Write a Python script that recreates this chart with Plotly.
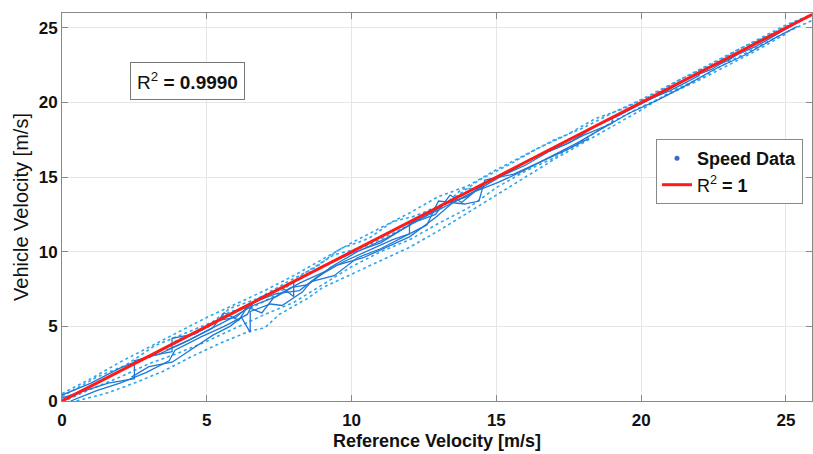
import plotly.graph_objects as go

# Speed test runs: (reference velocity, vehicle velocity) in m/s
RUN_SOLID_1 = [(0, 0.2), (0.8, 0.7), (1.6, 1.2), (2.5, 1.5), (2.5, 2.7), (3.3, 3.1), (4.2, 3.9),
               (5.0, 4.7), (5.8, 5.5), (6.6, 6.4), (7.4, 7.0), (8.2, 7.9), (9.0, 8.6), (9.8, 9.4),
               (10.6, 10.1), (11.4, 10.8), (12.0, 11.2), (12.0, 11.9), (12.8, 12.6), (13.6, 13.4),
               (14.4, 14.2), (15.2, 15.1), (16.0, 15.8), (16.8, 16.7), (17.6, 17.4), (18.4, 18.4),
               (19.2, 19.1), (20.0, 19.9), (20.8, 20.7), (21.6, 21.6), (22.4, 22.2), (23.2, 23.1),
               (24.0, 23.8), (24.8, 24.7), (25.6, 25.6)]
RUN_SOLID_2 = [(0, 0.4), (1.0, 1.2), (2.0, 2.2), (3.0, 3.0), (3.8, 3.3), (3.8, 4.2), (4.6, 4.5),
               (5.4, 5.4), (6.0, 5.6), (6.8, 6.9), (7.6, 7.6), (8.0, 7.0), (8.0, 8.0), (9.0, 9.0),
               (10.0, 9.9), (11.0, 10.6), (12.0, 11.8), (13.0, 12.9), (13.2, 13.2), (14.0, 13.7),
               (14.6, 14.6), (15.4, 15.3), (16.4, 16.4), (17.4, 17.2), (18.0, 17.8), (19.0, 18.6),
               (19.0, 19.0), (20.0, 20.0), (21.0, 20.8), (22.0, 21.8), (22.0, 22.1), (23.0, 22.8),
               (24.0, 24.1), (25.0, 25.0), (25.9, 25.9)]
RUN_SOLID_3 = [(0.3, 0.0), (1.2, 0.7), (2.0, 1.2), (2.9, 1.9), (3.7, 2.7), (3.9, 3.4), (4.8, 4.3),
               (5.6, 5.0), (6.4, 5.8), (6.6, 6.6), (7.4, 7.2), (8.2, 7.4), (8.8, 8.3), (9.5, 9.1),
               (10.4, 9.6), (11.2, 10.3), (12.0, 11.0), (12.9, 12.3), (13.5, 13.3), (14.2, 14.0),
               (15.0, 14.6), (15.8, 15.3), (16.8, 16.3), (17.8, 17.3), (18.6, 18.2), (19.6, 19.3),
               (20.6, 20.2), (21.6, 21.2), (22.6, 22.3), (23.6, 23.2), (24.6, 24.3), (25.4, 25.1)]
RUN_SOLID_4 = [(2.4, 1.6), (3.0, 2.3), (3.8, 2.6), (4.6, 3.6), (5.2, 4.4), (5.8, 5.0), (6.2, 5.6),
               (6.5, 4.6), (6.5, 6.0), (7.2, 6.5), (7.6, 6.4), (8.3, 7.3), (8.6, 8.0), (9.4, 8.4),
               (10.2, 9.6), (11.0, 10.2), (12.6, 11.8), (13.0, 13.4), (13.9, 13.2), (14.4, 13.4),
               (14.6, 14.8), (15.6, 15.2), (16.5, 16.0), (17.5, 16.9), (18.2, 17.6)]
RUN_SOLID_5 = [(3.6, 3.4), (4.4, 4.1), (5.2, 4.9), (5.6, 5.9), (6.1, 5.4), (6.4, 6.3), (6.9, 5.9),
               (7.3, 6.9), (7.9, 7.6), (8.5, 7.8), (9.3, 9.0), (10.2, 10.0), (11.3, 11.0),
               (12.2, 12.0), (12.9, 12.5), (13.4, 13.8), (13.8, 13.3), (14.3, 14.1), (14.8, 14.9)]
RUN_DOT_1 = [(0, 0.5), (1.0, 1.5), (2.0, 2.6), (3.0, 3.6), (4.0, 4.6), (5.0, 5.6), (6.0, 6.5),
             (7.0, 7.4), (8.0, 8.4), (9.0, 9.5), (10.0, 10.6), (11.0, 11.6), (12.0, 12.6),
             (13.0, 13.7), (14.0, 14.4), (15.0, 15.5), (16.0, 16.5), (17.0, 17.5), (18.0, 18.3),
             (19.0, 19.3), (20.0, 20.2), (21.0, 21.2), (22.0, 22.2), (23.0, 23.2), (24.0, 24.2),
             (25.0, 25.2), (25.9, 25.9)]
RUN_DOT_2 = [(0.5, 0.0), (1.5, 0.5), (2.5, 1.2), (3.5, 2.0), (4.5, 3.0), (5.5, 3.9), (6.5, 4.7),
             (7.0, 4.9), (7.5, 5.8), (8.5, 6.9), (9.0, 7.6), (10.0, 8.5), (11.0, 9.4), (12.0, 10.3),
             (13.0, 11.4), (14.0, 12.6), (15.0, 13.8), (16.0, 15.0), (17.0, 16.2), (18.0, 17.3),
             (19.0, 18.4), (20.0, 19.5), (21.0, 20.7), (22.0, 21.6), (23.0, 22.7), (24.0, 23.7),
             (25.0, 24.7), (25.9, 25.5)]
RUN_DOT_3 = [(0.2, 0.1), (1.0, 0.8), (2.0, 1.6), (3.0, 2.5), (4.0, 3.2), (5.0, 4.0), (6.0, 4.9),
             (7.0, 5.8), (8.0, 6.6), (9.0, 7.8), (10.0, 9.0), (11.0, 10.0), (12.0, 10.8),
             (13.0, 11.9), (14.0, 12.9), (15.0, 14.3), (16.0, 15.4), (17.0, 16.3), (18.0, 17.5),
             (19.0, 18.7), (20.0, 19.7), (21.0, 20.6), (22.0, 21.5), (23.0, 22.5), (24.0, 23.5),
             (25.0, 24.6)]
RUN_DOT_4 = [(0.0, 0.3), (1.2, 1.6), (2.2, 2.4), (3.2, 3.7), (4.2, 4.5), (5.2, 5.3), (5.8, 6.2),
             (6.8, 6.9), (7.8, 8.0), (8.8, 9.0), (9.6, 10.2), (10.6, 10.9), (11.4, 12.0),
             (12.2, 12.4), (13.4, 13.4), (14.4, 14.8), (15.4, 15.8), (16.4, 16.9), (17.4, 17.8),
             (18.4, 18.9), (19.4, 19.6), (20.4, 20.5), (21.4, 21.6), (22.4, 22.5), (23.4, 23.6),
             (24.4, 24.5), (25.4, 25.5)]
RUN_DOT_5 = [(3.0, 2.9), (4.0, 4.1), (5.0, 4.9), (5.8, 6.0), (6.6, 6.3), (7.4, 7.1), (8.4, 8.6),
             (9.4, 9.8), (10.4, 10.3), (11.4, 11.2), (12.4, 12.2), (13.2, 13.1), (13.8, 14.2),
             (14.6, 14.3)]

SOLID_RUNS = [RUN_SOLID_1, RUN_SOLID_2, RUN_SOLID_3, RUN_SOLID_4, RUN_SOLID_5]
DOTTED_RUNS = [RUN_DOT_1, RUN_DOT_2, RUN_DOT_3, RUN_DOT_4, RUN_DOT_5]

# Ideal fit line (R² = 1)
FIT_X = [0, 25.9]
FIT_Y = [0, 25.9]

X_TICKS = [0, 5, 10, 15, 20, 25]
Y_TICKS = [0, 5, 10, 15, 20, 25]

FONT = "Liberation Sans, Arial, sans-serif"
SOLID_BLUE = "#1f78d4"
LIGHT_BLUE = "#2ea6ee"

fig = go.Figure()

for run in DOTTED_RUNS:
    fig.add_trace(go.Scatter(
        x=[p[0] for p in run], y=[p[1] for p in run], mode="lines",
        line=dict(color=LIGHT_BLUE, width=1.6, dash="dot"),
        showlegend=False, hoverinfo="skip"))

for run in SOLID_RUNS:
    fig.add_trace(go.Scatter(
        x=[p[0] for p in run], y=[p[1] for p in run], mode="lines",
        line=dict(color=SOLID_BLUE, width=1.3),
        showlegend=False, hoverinfo="skip"))

# Legend entry for the speed samples
fig.add_trace(go.Scatter(
    x=[None], y=[None], mode="markers", name="<b>Speed Data</b>",
    marker=dict(color="#3f66cc", size=5)))

fig.add_trace(go.Scatter(
    x=FIT_X, y=FIT_Y, mode="lines", name="R<sup>2</sup><b> = 1</b>",
    line=dict(color="#ff1a1a", width=3)))

fig.add_annotation(
    x=0.09, y=0.826, xref="paper", yref="paper", xanchor="left", yanchor="middle",
    text="R<sup>2</sup><b> = 0.9990</b>", showarrow=False,
    font=dict(family=FONT, size=19, color="#111"),
    bordercolor="#777", borderwidth=1, borderpad=6, bgcolor="white")

axis_common = dict(
    showgrid=True, gridcolor="#e6e6e6", gridwidth=1,
    showline=True, linecolor="#888", linewidth=1, mirror="ticks",
    ticks="inside", ticklen=6, tickcolor="#888",
    zeroline=False,
    tickfont=dict(family=FONT, size=17, color="#111"),
)

fig.update_xaxes(
    range=[0, 25.9], tickvals=X_TICKS, ticktext=[f"<b>{v}</b>" for v in X_TICKS],
    ticklabelstandoff=4,
    title=dict(text="<b>Reference Velocity [m/s]</b>", standoff=4,
               font=dict(family=FONT, size=18, color="#111")),
    **axis_common)
fig.update_yaxes(
    range=[0, 26], tickvals=Y_TICKS, ticktext=[f"<b>{v}</b>" for v in Y_TICKS],
    title=dict(text="Vehicle Velocity [m/s]", standoff=4,
               font=dict(family=FONT, size=20, color="#111")),
    **axis_common)

fig.update_layout(
    width=813, height=454,
    margin=dict(l=62, r=1, t=13, b=53),
    plot_bgcolor="white", paper_bgcolor="white",
    font=dict(family=FONT, color="#111"),
    legend=dict(
        x=0.792, y=0.675, xanchor="left", yanchor="top",
        bgcolor="white", bordercolor="#888", borderwidth=1,
        font=dict(family=FONT, size=18, color="#111"),
        itemwidth=30, tracegroupgap=0),
)

fig.write_html("out.html")
